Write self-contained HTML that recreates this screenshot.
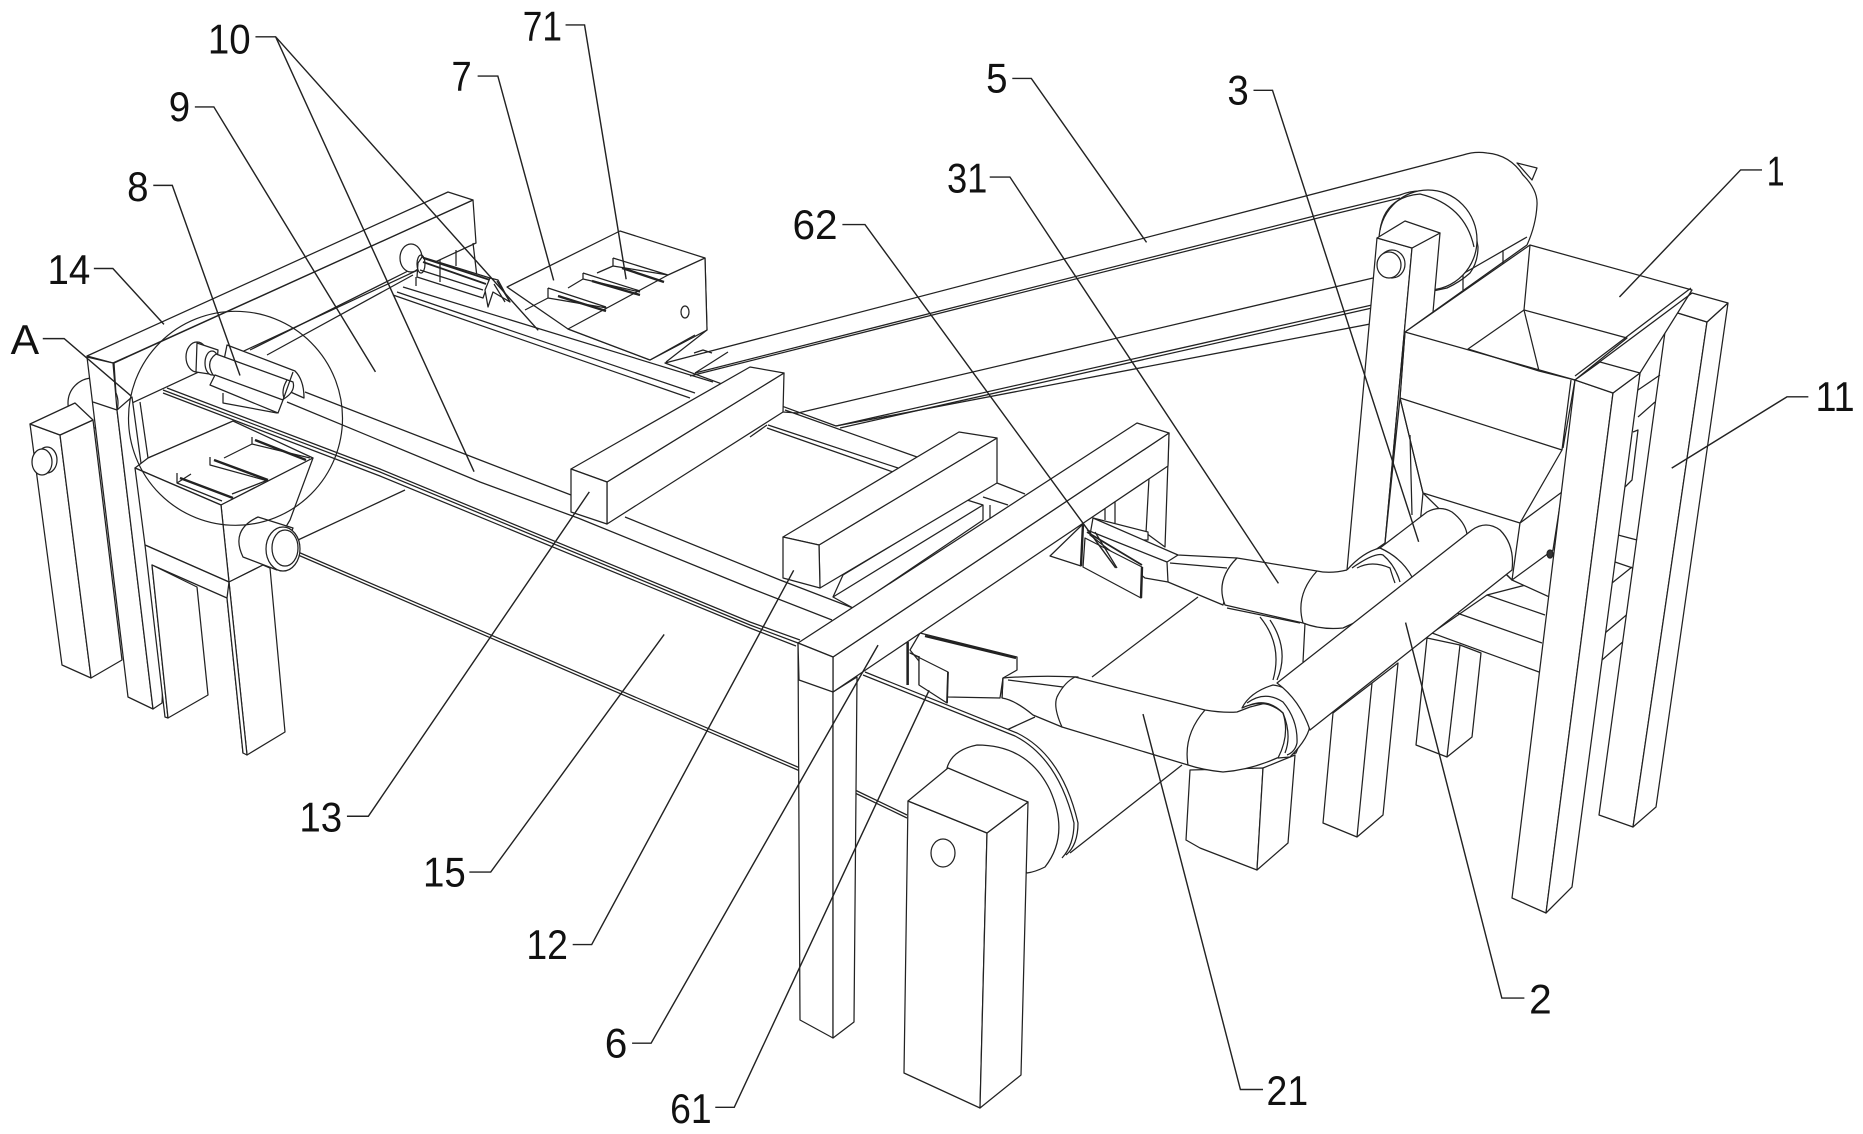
<!DOCTYPE html>
<html><head><meta charset="utf-8"><style>
html,body{margin:0;padding:0;background:#fff}
svg{display:block}
.d polygon,.d path,.d ellipse{fill:#fff;stroke:#222;stroke-width:1.25;stroke-linejoin:round}
.d path.n,.d ellipse.n{fill:none}
.d path.t{fill:none;stroke-width:2.4}
.l path,.l ellipse{fill:none;stroke:#222;stroke-width:1.2}
text{font-family:"Liberation Sans",sans-serif;font-size:35px;fill:#111}
</style></head><body>
<svg width="1863" height="1134" viewBox="0 0 1863 1134" xmlns="http://www.w3.org/2000/svg">
<g class="d">
<!-- belt 5 -->
<polygon points="1517,163 1537,168 1532,180"/>
<path d="M665,363 L1463,155 Q1475,151 1487,153 Q1510,155 1523,175 Q1538,190 1537,205 Q1536,225 1527,245 L1433,312 L836,426 Z"/>
<path class="n" d="M695,373 L1330,212 L1400,195 Q1410,191 1420,191 Q1445,195 1460,208 Q1475,225 1478,247 Q1478,262 1470,273 Q1460,282 1447,288 L1433,291"/>
<path class="n" d="M690,376 L1330,215 L1400,198"/>
<path class="n" d="M798,413 L1373,278"/>
<path class="n" d="M836,426 L1372,305 M840,428 L1372,308"/>
<path class="n" d="M1433,291 L1527,237 M1463,272 L1463,290 M1503,250 L1503,264"/>
<ellipse cx="1428" cy="240" rx="49" ry="50"/>
<path class="n" d="M1380,230 Q1385,197 1420,194 Q1465,205 1474,247"/>
<!-- rear right legs -->
<polygon points="1333,713 1372,683 1398,663 1383,815 1357,837 1323,823"/>
<path class="n" d="M1372,683 L1357,837"/>
<polygon points="1427,638 1460,645 1481,653 1472,737 1447,757 1416,745"/>
<path class="n" d="M1460,645 L1447,757"/>
<!-- table 11 -->
<polygon points="1487,595 1615,562 1668,580 1665,605 1602,660 1539,672 1432,633"/>
<path class="n" d="M1487,595 L1545,615 M1457,613 L1542,643 M1605,633 L1668,580 M1612,583 L1632,567"/>
<!-- post B -->
<polygon points="1668,310 1707,322 1633,827 1599,815"/>
<polygon points="1707,322 1728,303 1656,807 1633,827"/>
<polygon points="1692,293 1728,303 1707,322 1668,310"/>
<!-- hopper -->
<polygon points="1530,245 1692,290 1640,373 1620,500 1600,620 1512,580 1423,493 1400,398 1405,332"/>
<polygon points="1524,310 1627,338 1575,380 1539,371 1468,349"/>
<path class="n" d="M1530,245 L1524,310 L1539,371 M1405,332 L1575,380 M1400,398 L1562,450 M1575,380 L1563,448 M1571,380 L1562,450 L1520,523 L1423,493 M1692,293 L1578,378 M1691,288 L1575,376"/>
<path class="n" d="M1638,390 L1660,375 M1638,417 L1655,402 M1633,432 L1638,430 L1632,480 L1625,487 M1618,535 L1637,540"/>
<polygon points="1520,523 1562,492 1553,550 1512,580"/>
<path class="n" d="M1505,573 L1512,580"/>
<ellipse cx="1550" cy="554" rx="3" ry="4" style="fill:#333"/>
<!-- short post -->
<polygon points="1377,238 1412,248 1385,543 1347,570"/>
<polygon points="1412,248 1440,233 1433,312 1405,332 1400,398 1385,543"/>
<polygon points="1377,238 1405,221 1440,233 1412,248"/>
<ellipse cx="1392" cy="264" rx="13" ry="14"/>
<ellipse cx="1389" cy="265" rx="12" ry="13"/>
<path class="n" d="M1400,398 L1423,493 L1420,525 M1410,435 L1412,515"/>
<!-- big rear leg -->
<polygon points="1190,770 1263,768 1257,870 1200,848 1186,840"/>
<polygon points="1263,768 1295,755 1288,843 1257,870"/>
<!-- left frame far -->
<polygon points="114,363 473,200 476,243 117,410"/>
<polygon points="87,356 448,192 473,200 113,363"/>
<path class="n" d="M473,243 L477,277"/>
<path class="n" d="M250,350 L410,270 M267,355 L413,275"/>
<!-- left disc and post -->
<ellipse cx="93" cy="403" rx="25" ry="25"/>
<polygon points="30,424 60,435 91,678 62,665"/>
<polygon points="60,435 93,420 122,660 91,678"/>
<polygon points="30,424 75,403 93,420 60,435"/>
<ellipse cx="47" cy="460" rx="10" ry="13"/>
<ellipse cx="42" cy="462" rx="10" ry="13"/>
<!-- leg 14 -->
<polygon points="87,357 113,363 117,410 153,709 128,697"/>
<polygon points="117,410 132,397 165,640 162,703 153,709"/>
<path class="n" d="M93,402 L117,410"/>
<path class="n" d="M140,402 L148,458"/>
<!-- far bin 7 -->
<polygon points="507,287 620,231 705,258 707,330 650,360 568,329"/>
<polygon points="568,329 668,275 705,258 707,330 650,360"/>
<path class="n" d="M613,258 L613,266 L668,275 M613,258 L668,275 M583,273 L583,279 L640,292 M583,273 L640,291 M548,288 L548,298 L607,308 M548,288 L606,307 M525,310 L548,298 M568,288 L583,279 M597,273 L613,266"/>
<path class="t" d="M558,296 L606,311 M592,281 L640,295 M622,268 L664,282"/>
<ellipse cx="685" cy="312" rx="4" ry="6"/>
<path class="n" d="M707,330 L666,362 M695,335 L650,360 M695,373 L728,352"/>
<path class="n" d="M694,353 L703,350 L712,353"/>
<!-- far roller -->
<ellipse cx="411" cy="258" rx="11" ry="14"/>
<polygon points="422,257 490,278 483,298 417,277 418,263"/>
<ellipse class="n" cx="421" cy="264" rx="4" ry="9"/>
<path class="t" style="stroke-width:1.8" d="M423,258 L490,280 M423,262 L486,284"/>
<path class="n" d="M420,270 L483,290 M440,260 L440,282 M456,250 L456,266 M416,277 L416,286"/>
<polygon points="485,290 490,278 498,280 510,302 493,292 488,307"/>
<path class="n" d="M497,281 L510,302 M494,284 L505,302"/>
<!-- far rails -->
<path class="n" d="M403,287 L713,382 M397,292 L695,393 M393,295 L690,398"/>
<path class="n" d="M785,410 L917,457 M768,425 L898,468 M767,428 L893,472 M750,437 L767,425 M783,412 L798,413"/>
<!-- near rails -->
<path class="n" d="M305,392 L480,460 L571,495 M625,517 L780,580 L853,608"/>
<path class="n" d="M287,402 L480,482 L578,518 L750,588 L832,620"/>
<path class="n" d="M163,390 L380,472 L750,625 L798,643"/>
<path class="n" d="M163,393 L380,476 L750,628 L796,646"/>
<path class="n" d="M167,388 L380,469 L750,622 L800,640"/>
<!-- left roller 8 -->
<ellipse cx="197" cy="357" rx="11" ry="15"/>
<polygon points="197,343 218,350 216,375 196,372"/>
<ellipse cx="212" cy="363" rx="7" ry="12"/>
<path d="M227,345 L295,371 Q304,380 304,398 L286,390 L224,360 Z"/>
<path d="M216,354 L293,382 Q296,392 282,400 L213,375 Q205,362 216,354 Z"/>
<polygon points="215,375 283,400 278,413 210,385"/>
<path class="n" d="M283,400 L293,372 M223,393 L223,403 L277,413"/>
<path class="n" d="M287,380 Q281,390 284,398"/>
<!-- left bin -->
<path class="n" d="M148,458 L233,422"/>
<polygon points="135,468 148,458 233,421 313,458 221,505"/>
<polygon points="221,505 313,458 290,520 263,565 229,582"/>
<polygon points="135,468 221,505 229,582 145,545"/>
<path class="n" d="M177,473 L177,483 L222,501 M210,457 L210,465 L268,481 M252,437 L252,444 L310,458 M177,483 L191,474 M224,458 L252,444 M232,494 L268,480"/>
<path class="t" d="M180,478 L233,498 M214,460 L268,480 M255,440 L306,460"/>
<!-- left lower legs -->
<polygon points="145,545 229,582 243,753 227,598 152,565 168,718 165,717"/>
<polygon points="152,565 197,587 208,695 168,718"/>
<polygon points="229,582 263,565 270,568 285,732 247,755"/>
<polygon points="229,582 247,755 243,753 227,598"/>
<path class="n" d="M298,540 L405,490"/>
<path class="n" d="M298,552 L800,768 M298,555 L800,771"/>
<!-- roller near bin -->
<path d="M258,517 L293,528 L277,570 L243,557 Q230,530 258,517 Z"/>
<ellipse cx="283" cy="549" rx="17" ry="22"/>
<ellipse class="n" cx="285" cy="548" rx="13" ry="18"/>
<!-- front belt -->
<path class="n" d="M855,790 L907,815 M855,793 L907,818"/>
<path class="n" d="M963,750 L1035,717 M1092,677 L1198,597"/>
<path d="M865,672 L1017,733 Q1060,755 1078,823 Q1078,845 1070,853 L1045,867 L960,780 Z" style="stroke:none"/>
<path class="n" d="M865,672 L1017,733 Q1062,755 1078,823 Q1078,845 1066,855 M863,675 L1015,736 Q1058,758 1074,823 Q1074,845 1062,858"/>
<path class="n" d="M1070,853 L1182,765"/>
<path d="M947,768 Q952,750 977,745 Q1028,745 1050,790 Q1070,835 1045,867 Q1035,872 1027,873 Z"/>
<!-- big post -->
<polygon points="908,801 987,833 980,1108 904,1073"/>
<polygon points="987,833 1028,802 1021,1075 980,1108"/>
<polygon points="908,801 948,768 1028,802 987,833"/>
<ellipse cx="943" cy="853" rx="12" ry="14"/>
<!-- bar 6 rear leg -->
<polygon points="1150,460 1169,433 1165,547 1146,533"/>
<path class="n" d="M1115,501 L1115,523 M1105,508 L1105,520"/>
<!-- nozzle 62 -->
<polygon points="1050,556 1083,524 1081,566"/>
<polygon points="1093,518 1148,532 1148,540 1120,540"/>
<path class="t" d="M1083,524 L1081,566"/>
<path d="M1093,518 L1178,555 L1237,558 L1223,605 L1168,582 L1145,578 L1090,535 Z"/>
<path class="n" d="M1087,530 L1167,562 L1178,555 M1167,562 L1168,582 M1170,563 L1227,568"/>
<polygon points="1085,538 1142,567 1141,598 1083,567"/>
<path class="t" d="M1142,567 L1141,598"/>
<path class="t" style="stroke-width:1.8" d="M1087,532 L1142,565"/>
<path class="n" d="M1095,532 L1117,568"/>
<!-- pipe 31 -->
<path d="M1237,558 L1317,571 Q1330,574 1347,570 L1400,570 L1365,618 L1343,628 Q1320,630 1303,623 L1225,605 Q1215,580 1237,558 Z"/>
<path class="n" d="M1317,571 Q1295,595 1303,623 M1227,608 L1300,623"/>
<path class="n" d="M1260,617 Q1283,645 1273,680 M1270,620 Q1290,650 1277,680 M1305,623 L1303,662"/>
<!-- flange 31 -->
<path d="M1347,570 Q1363,552 1380,548 L1427,512 Q1440,505 1452,512 Q1465,522 1467,534 L1410,580 L1385,620 L1347,590 Z" style="stroke:none"/>
<path class="n" d="M1347,570 Q1363,552 1380,548 L1427,512 Q1440,505 1452,512 Q1465,522 1467,534"/>
<path class="n" d="M1380,548 Q1402,558 1412,577 M1352,568 Q1375,552 1383,555 Q1395,565 1400,582 M1357,568 Q1372,560 1390,568 Q1393,578 1395,583"/>
<!-- pipe 21 nozzle 61 -->
<polygon points="920,633 936,637 1017,657 1017,670 1003,678 1000,698 948,697 910,650"/>
<path class="t" d="M925,636 L1016,658"/>
<path class="n" d="M907,642 L907,685 M919,656 L919,685"/>
<path class="t" style="stroke-width:1.8" d="M908,642 L908,685"/>
<polygon points="910,653 948,672 947,703 919,685 919,657"/>
<path class="t" style="stroke-width:1.8" d="M948,672 L947,703"/>
<path d="M1003,678 Q1040,675 1078,677 L1062,727 L1033,715 Q1015,700 1002,698 Z"/>
<path class="n" d="M1003,678 L1002,698 M1008,680 L1063,687"/>
<path d="M1075,677 L1205,710 Q1223,713 1237,712 L1250,707 L1278,700 L1310,718 L1296,753 L1277,758 Q1250,770 1223,772 Q1203,770 1188,765 L1062,727 Q1052,705 1058,695 Q1065,682 1075,677 Z"/>
<path class="n" d="M1205,710 Q1183,735 1188,765"/>
<!-- flange 21 -->
<path d="M1242,708 Q1250,692 1273,685 Q1298,688 1310,720 Q1312,735 1290,757 L1278,758 Q1290,735 1283,713 Q1265,697 1242,708 Z"/>
<path class="n" d="M1247,703 Q1265,690 1283,702 Q1298,720 1297,743 Q1295,752 1287,755"/>
<path class="n" d="M1250,705 Q1268,698 1283,713 Q1292,735 1285,753"/>
<!-- pipe 2 -->
<path d="M1277,683 L1472,530 Q1486,520 1500,530 Q1515,545 1512,570 L1310,730 Q1300,700 1277,683 Z"/>
<!-- post A -->
<polygon points="1575,380 1613,393 1546,913 1512,898"/>
<polygon points="1613,393 1640,373 1572,887 1546,913"/>
<polygon points="1575,380 1600,362 1640,373 1613,393"/>
<!-- box 13 -->
<polygon points="607,482 784,373 783,412 607,524"/>
<polygon points="571,469 750,367 784,373 607,482"/>
<polygon points="571,469 607,482 607,524 571,512"/>
<!-- under box 12 -->
<polygon points="843,575 967,500 983,505 983,520 853,608 833,597"/>
<path class="n" d="M833,597 L983,505 M997,483 L1025,494 M983,497 L1008,505 M990,505 L990,518"/>
<!-- box 12 -->
<polygon points="819,545 997,438 997,483 820,588"/>
<polygon points="783,537 959,432 997,438 819,545"/>
<polygon points="783,537 819,545 820,588 783,578"/>
<!-- bar 6 -->
<polygon points="798,643 833,692 833,1038 800,1020"/>
<polygon points="833,692 857,677 854,1022 833,1038"/>
<polygon points="833,657 1169,433 1168,466 833,692"/>
<polygon points="798,643 1137,423 1169,433 833,657"/>
<polygon points="798,643 833,657 833,692 799,680"/>
</g>
<g class="l">
<ellipse cx="235.5" cy="418.3" rx="107" ry="107"/>
</g>
<g class="l" transform="scale(1.18814)">
<path d="M215,31H232L453,278M232,31L399,397"/>
<path d="M476,21H492L527,235"/>
<path d="M402,64H419L466,236"/>
<path d="M164,90H180L316,313"/>
<path d="M129,156H145L202,316"/>
<path d="M79,226H95L138,273"/>
<path d="M36,285H54L110,333"/>
<path d="M852,66H868L965,204"/>
<path d="M1055,76H1071L1194,456"/>
<path d="M1483,143H1465L1363,250"/>
<path d="M833,149H850L1076,491"/>
<path d="M709,189H728L939,478"/>
<path d="M1522,334H1504L1407,394"/>
<path d="M1283,840H1264L1183,524"/>
<path d="M1063,917H1044L962,601"/>
<path d="M292,687H310L496,414"/>
<path d="M395,734H413L559,534"/>
<path d="M482,795H498L668,480"/>
<path d="M532,878H548L739,543"/>
<path d="M602,932H618L782,581"/>
</g>
<g transform="scale(1.18814)">
<text x="175" y="45" textLength="36" lengthAdjust="spacingAndGlyphs">10</text>
<text x="440" y="34" textLength="33" lengthAdjust="spacingAndGlyphs">71</text>
<text x="380" y="76" textLength="17" lengthAdjust="spacingAndGlyphs">7</text>
<text x="142" y="102" textLength="18" lengthAdjust="spacingAndGlyphs">9</text>
<text x="107" y="169" textLength="18" lengthAdjust="spacingAndGlyphs">8</text>
<text x="40" y="239" textLength="36" lengthAdjust="spacingAndGlyphs">14</text>
<text x="9" y="298" textLength="24" lengthAdjust="spacingAndGlyphs">A</text>
<text x="830" y="78" textLength="18" lengthAdjust="spacingAndGlyphs">5</text>
<text x="1033" y="88" textLength="18" lengthAdjust="spacingAndGlyphs">3</text>
<text x="1487" y="156" textLength="15" lengthAdjust="spacingAndGlyphs">1</text>
<text x="797" y="162" textLength="34" lengthAdjust="spacingAndGlyphs">31</text>
<text x="667" y="201" textLength="38" lengthAdjust="spacingAndGlyphs">62</text>
<text x="1528" y="346" textLength="33" lengthAdjust="spacingAndGlyphs">11</text>
<text x="252" y="700" textLength="36" lengthAdjust="spacingAndGlyphs">13</text>
<text x="356" y="746" textLength="36" lengthAdjust="spacingAndGlyphs">15</text>
<text x="443" y="807" textLength="35" lengthAdjust="spacingAndGlyphs">12</text>
<text x="509" y="890" textLength="19" lengthAdjust="spacingAndGlyphs">6</text>
<text x="564" y="945" textLength="35" lengthAdjust="spacingAndGlyphs">61</text>
<text x="1287" y="853" textLength="19" lengthAdjust="spacingAndGlyphs">2</text>
<text x="1066" y="930" textLength="35" lengthAdjust="spacingAndGlyphs">21</text>
</g>
</svg>
</body></html>
